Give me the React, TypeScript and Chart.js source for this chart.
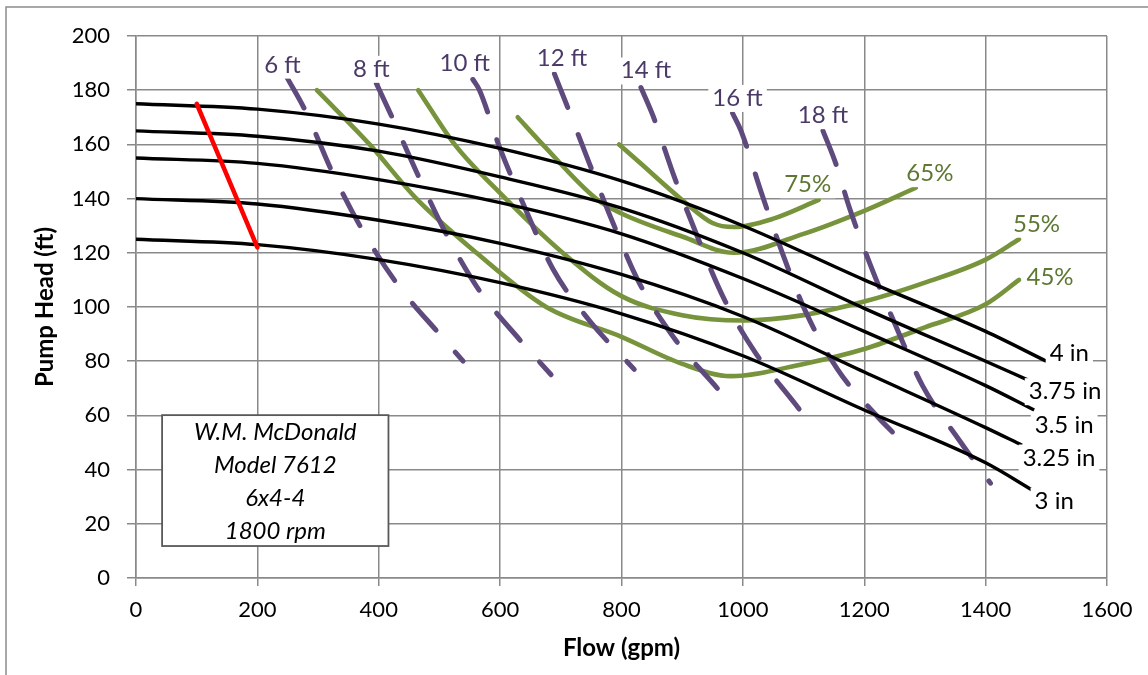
import React, { useEffect, useRef } from 'react';
import { Chart, registerables } from 'chart.js';

Chart.register(...registerables);

// ---- Data ----
const flowMin = 0;
const flowMax = 1600;
const flowStep = 200;
const headMin = 0;
const headMax = 200;
const headStep = 20;

// Pump curves (impeller diameters)
const pumpLabels = ['4 in', '3.75 in', '3.5 in', '3.25 in', '3 in'];
const pump4Q = [0, 200, 400, 600, 800, 1000, 1200, 1400, 1500];
const pump4H = [175, 173, 167.5, 158.5, 146.5, 130, 110, 91, 80];
const pump375Q = [0, 200, 400, 600, 800, 1000, 1200, 1400, 1470];
const pump375H = [165, 163, 157.5, 148, 136.5, 120, 99.5, 80, 73];
const pump35Q = [0, 200, 400, 600, 800, 1000, 1200, 1400, 1480];
const pump35H = [155, 153, 147, 138.5, 127, 110.5, 91, 71, 62];
const pump325Q = [0, 200, 400, 600, 800, 1000, 1200, 1400, 1460];
const pump325H = [140, 138, 132, 123.5, 112, 96.5, 76, 55.5, 49];
const pump3Q = [0, 200, 400, 600, 800, 1000, 1200, 1400, 1480];
const pump3H = [125, 123, 117.5, 109, 97.5, 82, 62, 42.5, 32];

// Shut-off (red) line
const redQ = [100, 200];
const redH = [175, 122];

// Efficiency curves
const effLabels = ['75%', '65%', '55%', '45%'];
const eff75Q = [796, 829, 900, 950, 985, 1049, 1125];
const eff75H = [160, 153.5, 139.5, 131, 129.5, 132.5, 139.5];
const eff65Q = [629, 670, 758, 800, 900, 985, 1100, 1200, 1285];
const eff65H = [170, 160, 140, 134.5, 126, 120, 127, 135.5, 144];
const eff55Q = [465, 525, 600, 703, 800, 900, 1000, 1100, 1200, 1300, 1400, 1455];
const eff55H = [180, 160, 142, 120, 104, 97, 95, 97, 102, 109, 117.5, 125];
const eff45Q = [298, 385, 462, 561, 676, 800, 900, 980, 1100, 1200, 1300, 1400, 1455];
const eff45H = [180, 160, 140, 120, 100, 89, 79, 74.5, 79, 84.5, 92.5, 101, 110];

// Dashed (purple) curves
const sysLabels = ['6 ft', '8 ft', '10 ft', '12 ft', '14 ft', '16 ft', '18 ft'];
const sys6Q = [248, 280, 325, 374, 432, 500, 539];
const sys6H = [185, 172, 149, 128, 108, 90, 80];
const sys8Q = [396, 420, 464, 511, 566, 632, 684];
const sys8H = [182.5, 171, 149, 127, 106, 88, 75];
const sys10Q = [555, 566, 599, 642, 687, 747, 821];
const sys10H = [184, 180, 159, 136, 114, 95, 77];
const sys12Q = [689.5, 709, 747, 786, 829, 887, 958];
const sys12H = [186, 175, 153, 131, 109, 88.5, 70];
const sys14Q = [832, 852, 887, 925, 969, 1021, 1087, 1117];
const sys14H = [181, 170.5, 148, 126, 103, 83, 64, 55];
const sys16Q = [983, 997, 1030, 1065, 1104, 1156, 1222, 1264];
const sys16H = [171.5, 165, 142.5, 120, 98, 77, 59.5, 50];
const sys18Q = [1132, 1153, 1175, 1211, 1252, 1296, 1356, 1408];
const sys18H = [165, 153, 137, 115, 93, 71, 51, 35];

const infoLines = ['W.M. McDonald', 'Model 7612', '6x4-4', '1800 rpm'];

// ---- Styles ----
const FONT = 'Lato, "Open Sans", sans-serif';
const BLACK = '#000000';
const GREEN = '#77933c';
const GREEN_TEXT = '#5e7733';
const PURPLE = '#5f4a7d';
const PURPLE_TEXT = '#4b3a67';
const RED = '#ff0000';
const GRID = '#898989';

// label offsets in px from curve anchor (start for dashed, end for others)
const sysLabelOffsets = [[-4, -4], [-5, -6.6], [-8, -8.3], [7.5, -8], [5, -9], [5, -7.3], [0, -7.7]];
const effLabelOffsets = [[-11, -7.7], [14, -6.6], [17.5, -7.6], [31, 5]];
const pumpLabelOffsets = [[23, 0], [37, 19], [30, 22.7], [37, 20.3], [20, 17.3]];

const pts = (q: number[], h: number[]) => q.map((x, i) => ({ x, y: h[i] }));

export default function App() {
  const ref = useRef<HTMLCanvasElement | null>(null);

  useEffect(() => {
    const canvas = ref.current;
    if (!canvas) return;

    const pumpSets = [
      [pump4Q, pump4H], [pump375Q, pump375H], [pump35Q, pump35H], [pump325Q, pump325H], [pump3Q, pump3H],
    ];
    const effSets = [[eff75Q, eff75H], [eff65Q, eff65H], [eff55Q, eff55H], [eff45Q, eff45H]];
    const sysSets = [
      [sys6Q, sys6H], [sys8Q, sys8H], [sys10Q, sys10H], [sys12Q, sys12H], [sys14Q, sys14H], [sys16Q, sys16H], [sys18Q, sys18H],
    ];

    const base = {
      showLine: true,
      pointRadius: 0,
      pointHoverRadius: 0,
      fill: false,
      cubicInterpolationMode: 'monotone' as const,
    };

    const datasets: any[] = [];
    pumpSets.forEach(([q, h], i) =>
      datasets.push({ ...base, label: pumpLabels[i], data: pts(q, h), borderColor: BLACK, borderWidth: 3.4, order: 1 })
    );
    datasets.push({ ...base, label: 'shutoff', data: pts(redQ, redH), borderColor: RED, borderWidth: 4.5, borderCapStyle: 'round', order: 0 });
    sysSets.forEach(([q, h], i) =>
      datasets.push({
        ...base, label: sysLabels[i], data: pts(q, h), borderColor: PURPLE, borderWidth: 5,
        borderDash: [36, 29], borderCapStyle: 'round', order: 2,
      })
    );
    effSets.forEach(([q, h], i) =>
      datasets.push({ ...base, label: effLabels[i], data: pts(q, h), borderColor: GREEN, borderWidth: 4.6, borderCapStyle: 'round', order: 3 })
    );

    const frame = {
      id: 'frame',
      beforeDraw(chart: any) {
        const ctx = chart.ctx;
        ctx.save();
        ctx.fillStyle = '#ffffff';
        ctx.fillRect(0, 0, chart.width, chart.height);
        ctx.strokeStyle = '#8c8c8c';
        ctx.lineWidth = 1.5;
        ctx.beginPath();
        ctx.moveTo(6, chart.height + 5);
        ctx.lineTo(6, 7);
        ctx.lineTo(chart.width + 5, 7);
        ctx.stroke();
        ctx.restore();
      },
    };

    const drawLabel = (ctx: CanvasRenderingContext2D, text: string, x: number, baseline: number, color: string) => {
      ctx.font = `24px ${FONT}`;
      const w = ctx.measureText(text).width;
      ctx.fillStyle = '#ffffff';
      ctx.fillRect(x - w / 2 - 4, baseline - 21, w + 8, 27);
      ctx.fillStyle = color;
      ctx.textAlign = 'center';
      ctx.textBaseline = 'alphabetic';
      ctx.fillText(text, x, baseline);
    };

    const labels = {
      id: 'labels',
      afterDatasetsDraw(chart: any) {
        const ctx = chart.ctx as CanvasRenderingContext2D;
        const xs = chart.scales.x;
        const ys = chart.scales.y;
        ctx.save();
        sysSets.forEach(([q, h], i) => {
          const px = xs.getPixelForValue(q[0]);
          const py = ys.getPixelForValue(h[0]);
          drawLabel(ctx, sysLabels[i], px + sysLabelOffsets[i][0], py + sysLabelOffsets[i][1], PURPLE_TEXT);
        });
        effSets.forEach(([q, h], i) => {
          const n = q.length - 1;
          const px = xs.getPixelForValue(q[n]);
          const py = ys.getPixelForValue(h[n]);
          drawLabel(ctx, effLabels[i], px + effLabelOffsets[i][0], py + effLabelOffsets[i][1], GREEN_TEXT);
        });
        pumpSets.forEach(([q, h], i) => {
          const n = q.length - 1;
          const px = xs.getPixelForValue(q[n]);
          const py = ys.getPixelForValue(h[n]);
          drawLabel(ctx, pumpLabels[i], px + pumpLabelOffsets[i][0], py + pumpLabelOffsets[i][1], '#000000');
        });

        // info box
        const bx1 = xs.getPixelForValue(43);
        const bx2 = xs.getPixelForValue(416);
        const by1 = ys.getPixelForValue(60.1);
        const by2 = ys.getPixelForValue(11.8);
        ctx.fillStyle = '#ffffff';
        ctx.fillRect(bx1, by1, bx2 - bx1, by2 - by1);
        ctx.strokeStyle = '#595959';
        ctx.lineWidth = 1.8;
        ctx.strokeRect(bx1, by1, bx2 - bx1, by2 - by1);
        ctx.fillStyle = '#000000';
        ctx.font = `italic 24px ${FONT}`;
        ctx.textAlign = 'center';
        ctx.textBaseline = 'alphabetic';
        const cx = (bx1 + bx2) / 2;
        infoLines.forEach((t, i) => ctx.fillText(t, cx, by1 + 25.3 + i * 32.8));
        ctx.restore();
      },
    };

    const chart = new Chart(canvas, {
      type: 'line',
      data: { datasets },
      plugins: [frame, labels],
      options: {
        animation: false,
        responsive: false,
        devicePixelRatio: 1,
        layout: { padding: { top: 36, right: 41, left: 0, bottom: 0 } },
        plugins: {
          legend: { display: false },
          tooltip: { enabled: false },
          title: { display: false },
        },
        events: [],
        scales: {
          x: {
            type: 'linear',
            min: flowMin,
            max: flowMax,
            ticks: {
              stepSize: flowStep, color: '#000', font: { family: FONT, size: 22 }, padding: 11, maxRotation: 0,
              callback: (v: any) => String(v),
            },
            grid: { color: GRID, lineWidth: 1.5, tickLength: 8, drawTicks: true },
            border: { display: true, color: GRID, width: 1.5 },
            title: {
              display: true,
              text: 'Flow (gpm)',
              color: '#000',
              font: { family: FONT, size: 24, weight: 'bold' },
              padding: { top: 0, bottom: 12.6 },
            },
            afterFit: (s: any) => { s.height = 97; },
          },
          y: {
            type: 'linear',
            min: headMin,
            max: headMax,
            ticks: {
              stepSize: headStep, color: '#000', font: { family: FONT, size: 22 }, padding: 17,
              callback: (v: any) => String(v),
            },
            grid: { color: GRID, lineWidth: 1.5, tickLength: 9, drawTicks: true },
            border: { display: true, color: GRID, width: 1.5 },
            title: {
              display: true,
              text: 'Pump Head (ft)',
              color: '#000',
              font: { family: FONT, size: 24, weight: 'bold' },
              padding: { top: 30.6, bottom: 0 },
            },
            afterFit: (s: any) => { s.width = 136; },
          },
        },
      } as any,
    });

    return () => chart.destroy();
  }, []);

  return (
    <div style={{ position: 'fixed', left: 0, top: 0, width: 1148, height: 675, background: '#fff' }}>
      <canvas ref={ref} width={1148} height={675} style={{ width: 1148, height: 675, display: 'block' }} />
    </div>
  );
}
